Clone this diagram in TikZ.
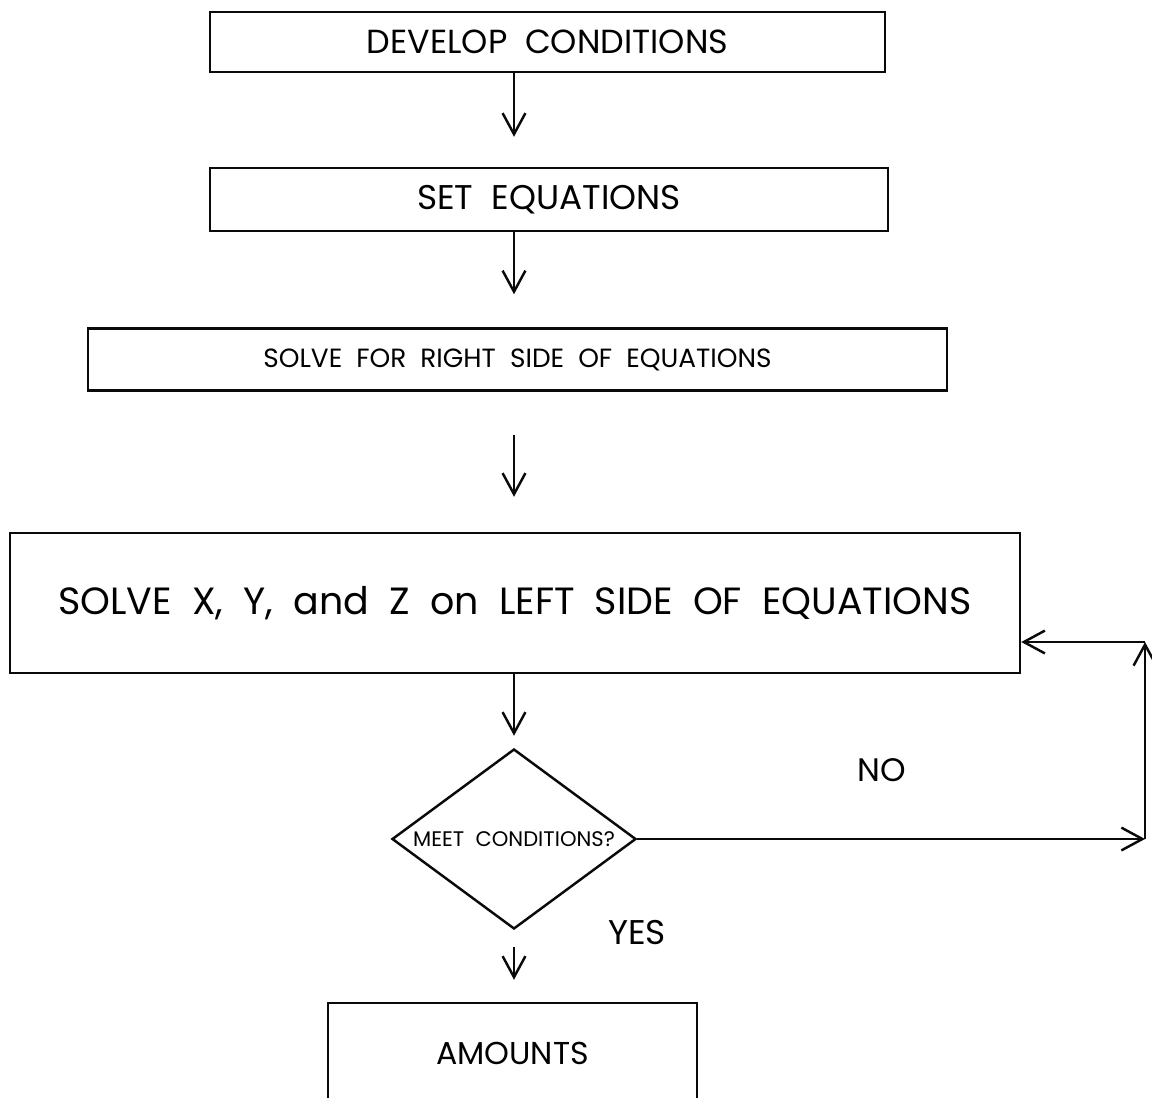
\documentclass[tikz,border=0pt]{standalone}
\usepackage{fontspec}
\setmainfont{Poppins}[WordSpace=2]
\usepackage{tikz}
\usetikzlibrary{
  positioning,
  arrows.meta,
  shapes.geometric
}
\definecolor{flowline}{RGB}{10,10,10}
\tikzset{
  stepbox/.style={
    draw=flowline, line width=1.4pt, inner sep=0pt,
    align=center, font=\fontsize{18.5}{22}\selectfont
  },
  decbox/.style={
    draw=flowline, diamond, line width=1.4pt, inner sep=0pt,
    minimum width=4.88cm, minimum height=3.6cm
  },
  flowarrow/.style={
    -{Straight Barb[length=12pt,width=13pt]}, line width=1.4pt, draw=flowline
  },
  answertext/.style={
    font=\fontsize{18.5}{22}\selectfont
  }
}

\begin{document}
\begin{tikzpicture}
    \useasboundingbox (0,0) rectangle (23.04,-21.94);

    \node[stepbox, minimum width=13.5cm, minimum height=1.2cm, font=\fontsize{19}{22}\selectfont] (dev) at (10.95,-0.84) {DEVELOP CONDITIONS};
    \node[stepbox, minimum width=13.56cm, minimum height=1.26cm, font=\fontsize{19.5}{23}\selectfont] (seteq) at (10.98,-3.99) {SET EQUATIONS};
    \node[stepbox, minimum width=17.18cm, minimum height=1.24cm, font=\fontsize{15}{18}\selectfont] (rhs) at (10.35,-7.19) {SOLVE FOR RIGHT SIDE OF EQUATIONS};
    \node[stepbox, minimum width=20.2cm, minimum height=2.8cm, font=\fontsize{21.6}{26}\selectfont] (lhs) at (10.30,-12.06) {SOLVE X, Y, and Z on LEFT SIDE OF EQUATIONS};

    \node[decbox, label={[font=\fontsize{12}{14}\selectfont]center:MEET CONDITIONS?}] (meet) at (10.28,-16.78) {};

    \node[answertext] (no) at (17.64,-15.40) {NO};
    \node[answertext, font=\fontsize{19.5}{23}\selectfont] (yes) at (12.74,-18.66) {YES};

    \node[stepbox, minimum width=7.38cm, minimum height=2.0cm, font=\fontsize{18}{22}\selectfont] (amounts) at (10.25,-21.06) {AMOUNTS};

    \draw[flowarrow, shorten >=0.6cm] (dev.south -| meet) -- (seteq.north -| meet);
    \draw[flowarrow, shorten >=0.66cm] (seteq.south -| meet) -- (rhs.north -| meet);
    \draw[flowarrow, shorten <=0.86cm, shorten >=0.7cm] (rhs.south -| meet) -- (lhs.north -| meet);
    \draw[flowarrow, shorten >=0.24cm] (lhs.south -| meet) -- (meet.north);
    \draw[flowarrow, shorten <=0.34cm, shorten >=0.44cm] (meet.south) -- (amounts.north -| meet);

    % loop back on NO
    \coordinate (loopbr) at (22.9,-16.78);
    \coordinate (looptr) at (22.9,-12.84);
    \draw[flowarrow] (meet.east) -- (loopbr);
    \draw[flowarrow] (loopbr) -- (looptr);
    \draw[flowarrow] (looptr) -- (lhs.east |- looptr);

\end{tikzpicture}
\end{document}
